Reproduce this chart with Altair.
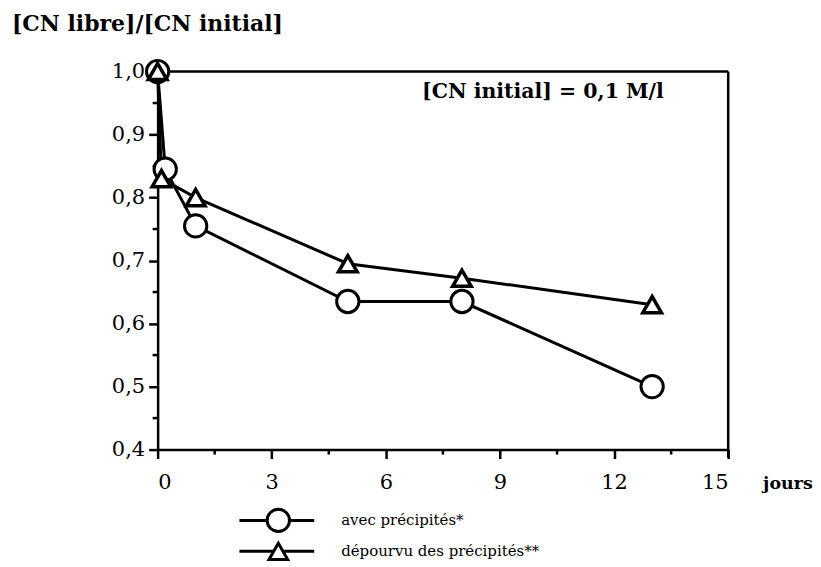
import altair as alt
import pandas as pd

# data
series_names = ["avec précipités*", "dépourvu des précipités**"]
jours_avec = [0, 0.2, 1, 5, 8, 13]
cn_avec = [1.0, 0.845, 0.755, 0.635, 0.635, 0.50]
jours_sans = [0, 0.1, 1, 5, 8, 13]
cn_sans = [1.0, 0.83, 0.80, 0.695, 0.672, 0.63]

x_ticks = [0, 3, 6, 9, 12, 15]
x_minor = [1.5, 4.5, 7.5, 10.5, 13.5]
y_ticks = [0.4, 0.5, 0.6, 0.7, 0.8, 0.9, 1.0]
y_minor = [0.45, 0.55, 0.65, 0.75, 0.85, 0.95]

df = pd.DataFrame({
    "serie": [series_names[0]] * len(jours_avec) + [series_names[1]] * len(jours_sans),
    "jours": jours_avec + jours_sans,
    "cn": cn_avec + cn_sans,
})
df_avec = df[df.serie == series_names[0]]
df_sans = df[df.serie == series_names[1]]

W, H = 572, 379
FONT = "DejaVu Serif"

xscale = alt.Scale(domain=[0, 15], nice=False, zero=False)
yscale = alt.Scale(domain=[0.4, 1.0], nice=False, zero=False)

xaxis = alt.Axis(values=x_ticks, title=None, grid=False, tickSize=9, tickWidth=2.5,
                 domainWidth=2.5, domainColor="black", tickColor="black",
                 labelFont=FONT, labelFontSize=21, labelColor="black", labelPadding=13)
yaxis = alt.Axis(values=y_ticks, title=None, grid=False, tickSize=9, tickWidth=2.5,
                 domainWidth=2.5, domainColor="black", tickColor="black",
                 labelFont=FONT, labelFontSize=21, labelColor="black", labelPadding=4,
                 labelExpr="replace(format(datum.value, '.1f'), '.', ',')")

base = alt.Chart(df)

lines = base.mark_line(color="black", strokeWidth=3).encode(
    x=alt.X("jours:Q", scale=xscale, axis=xaxis),
    y=alt.Y("cn:Q", scale=yscale, axis=yaxis),
    detail="serie:N",
)

circles = alt.Chart(df_avec).mark_point(shape="circle", size=500, filled=True,
                                         fill="white", stroke="black", strokeWidth=3,
                                         opacity=1).encode(
    x=alt.X("jours:Q", scale=xscale), y=alt.Y("cn:Q", scale=yscale))

triangles = alt.Chart(df_sans).mark_point(shape="triangle-up", size=350, filled=True,
                                           fill="white", stroke="black", strokeWidth=3.5,
                                           opacity=1).encode(
    x=alt.X("jours:Q", scale=xscale), y=alt.Y("cn:Q", scale=yscale))

xminor = alt.Chart(pd.DataFrame({"v": x_minor})).mark_rule(color="black", strokeWidth=2.5).encode(
    x=alt.X("v:Q", scale=xscale), y=alt.value(H), y2=alt.value(H + 5))
yminor = alt.Chart(pd.DataFrame({"v": y_minor})).mark_rule(color="black", strokeWidth=2.5).encode(
    y=alt.Y("v:Q", scale=yscale), x=alt.value(-5), x2=alt.value(0))

one = pd.DataFrame({"a": [0]})

top_border = alt.Chart(one).mark_rule(color="black", strokeWidth=2.5).encode(
    x=alt.value(0), x2=alt.value(W), y=alt.value(0))
right_border = alt.Chart(one).mark_rule(color="black", strokeWidth=2.5).encode(
    x=alt.value(W), y=alt.value(0), y2=alt.value(H + 8))

title = alt.Chart(one).mark_text(text="[CN libre]/[CN initial]", font=FONT, fontSize=22,
                                 fontWeight="bold", align="left", baseline="middle",
                                 color="black").encode(x=alt.value(-146), y=alt.value(-48))
note = alt.Chart(one).mark_text(text="[CN initial]  =  0,1 M/l", font=FONT, fontSize=20.5,
                                fontWeight="bold", align="left", baseline="middle",
                                color="black").encode(x=alt.value(265), y=alt.value(21))
jours = alt.Chart(one).mark_text(text="jours", font=FONT, fontSize=17.5, fontWeight="bold",
                                 align="left", baseline="middle",
                                 color="black").encode(x=alt.value(607), y=alt.value(414))

leg_y = [450, 481]
leg_layers = []
shapes = ["circle", "triangle-up"]
sizes = [500, 350]
for i in range(2):
    leg_layers.append(alt.Chart(one).mark_rule(color="black", strokeWidth=3).encode(
        x=alt.value(82), x2=alt.value(157), y=alt.value(leg_y[i])))
    leg_layers.append(alt.Chart(one).mark_point(shape=shapes[i], size=sizes[i], filled=True,
                                                 fill="white", stroke="black", strokeWidth=3,
                                                 opacity=1).encode(
        x=alt.value(121), y=alt.value(leg_y[i])))
    leg_layers.append(alt.Chart(one).mark_text(text=series_names[i], font=FONT, fontSize=15,
                                                align="left", baseline="middle",
                                                color="black").encode(
        x=alt.value(184), y=alt.value(leg_y[i])))

chart = alt.layer(xminor, yminor, top_border, right_border, lines, circles, triangles,
                  title, note, jours, *leg_layers).properties(
    width=W, height=H,
    autosize=alt.AutoSizeParams(type="none"),
    padding={"left": 150, "top": 63, "right": 85, "bottom": 112},
).configure_view(stroke=None).configure(background="white")

chart.save("out.html", embed_options={"renderer": "svg", "actions": False})
